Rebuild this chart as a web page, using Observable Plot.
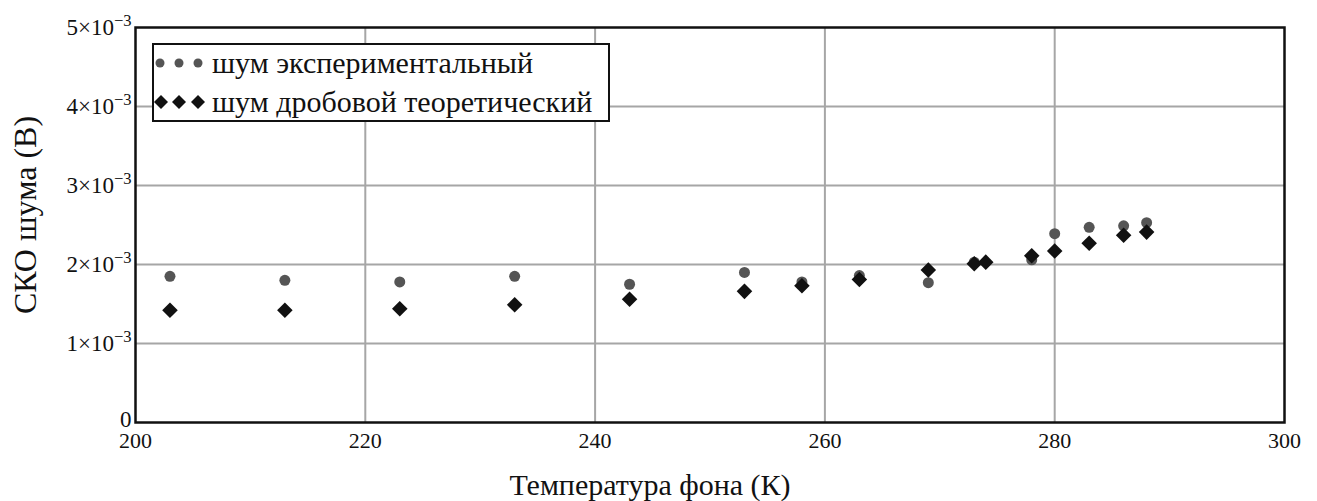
<!DOCTYPE html>
<html><head><meta charset="utf-8">
<script src="https://cdn.jsdelivr.net/npm/d3@7"></script>
<script src="https://cdn.jsdelivr.net/npm/@observablehq/plot@0.6"></script>
<style>
body{margin:0;background:#fff;font-family:'Liberation Serif';}
#wrap{position:relative;width:1317px;height:501px;overflow:hidden;}
#legend{position:absolute;left:152px;top:43px;width:454px;height:75px;border:2px solid #111;background:#fff;font-size:30px;color:#111;}
.row{position:absolute;left:0;height:34px;display:flex;align-items:center;white-space:nowrap;}
.row svg{margin-right:2px;}
</style></head><body style="font-family:'Liberation Serif'"><div id="wrap" style="font-family:'Liberation Serif'"></div>
<script>
// Experimental noise (circles)
const expTemp  = [203, 213, 223, 233, 243, 253, 258, 263, 269, 273, 278, 280, 283, 286, 288];
const expNoise = [1.85e-3, 1.80e-3, 1.78e-3, 1.85e-3, 1.75e-3, 1.90e-3, 1.78e-3, 1.86e-3, 1.77e-3, 2.03e-3, 2.06e-3, 2.39e-3, 2.47e-3, 2.49e-3, 2.53e-3];
// Theoretical shot noise (diamonds)
const thTemp  = [203, 213, 223, 233, 243, 253, 258, 263, 269, 273, 274, 278, 280, 283, 286, 288];
const thNoise = [1.42e-3, 1.42e-3, 1.44e-3, 1.49e-3, 1.56e-3, 1.66e-3, 1.73e-3, 1.81e-3, 1.93e-3, 2.01e-3, 2.03e-3, 2.11e-3, 2.17e-3, 2.27e-3, 2.37e-3, 2.41e-3];
// Axes
const xTicks = [200, 220, 240, 260, 280, 300];
const yTicks = [0, 1e-3, 2e-3, 3e-3, 4e-3, 5e-3];
const yTickMant = ["0", "1×10", "2×10", "3×10", "4×10", "5×10"];
const yTickExp  = ["", "−3", "−3", "−3", "−3", "−3"];
const gridX = [220, 240, 260, 280];
const gridY = [1e-3, 2e-3, 3e-3, 4e-3];
const xTitle = ["Температура фона (К)"];
const yTitle = ["СКО шума (В)"];
const legendLabels = ["шум экспериментальный", "шум дробовой теоретический"];

const FONT = "Liberation Serif";
const expData = expTemp.map((t, i) => ({t, v: expNoise[i]}));
const thData = thTemp.map((t, i) => ({t, v: thNoise[i]}));

const chart = Plot.plot({
  width: 1317, height: 501,
  marginLeft: 135, marginRight: 33, marginTop: 27, marginBottom: 79,
  style: {background: "#fff", color: "#111", fontFamily: FONT},
  x: {domain: [200, 300]},
  y: {domain: [0, 0.005]},
  marks: [
    Plot.ruleX(gridX, {stroke: "#a6a6a6", strokeWidth: 2}),
    Plot.ruleY(gridY, {stroke: "#a6a6a6", strokeWidth: 2}),
    Plot.dot(expData, {x: "t", y: "v", symbol: "circle", r: 5.5, fill: "#555", stroke: null}),
    Plot.dot(thData, {x: "t", y: "v", symbol: "diamond2", r: 7, fill: "#111", stroke: null}),
    Plot.frame({stroke: "#111", strokeWidth: 2.5}),
    Plot.axisX({ticks: xTicks, tickSize: 0, tickPadding: 10, fontSize: 22, label: null, tickFormat: d => String(d)}),
    Plot.axisY({ticks: yTicks, tickSize: 0, tickPadding: 4, fontSize: 23, label: null,
      tickFormat: d => String(yTicks.indexOf(d))}),
    Plot.text(xTitle, {frameAnchor: "bottom", textAnchor: "middle", lineAnchor: "middle", dx: -60, dy: 63, fontSize: 30}),
    Plot.text(yTitle, {frameAnchor: "left", textAnchor: "middle", lineAnchor: "middle", rotate: -90, dx: -110, dy: -10, fontSize: 32})
  ]
});

// rewrite y tick labels with superscript exponents
d3.select(chart).selectAll('g[aria-label="y-axis tick label"] text').each(function() {
  const el = d3.select(this);
  const idx = +el.text();
  el.text(null);
  el.append("tspan").text(yTickMant[idx]);
  if (yTickExp[idx]) el.append("tspan").attr("dy", "-0.55em").attr("font-size", "0.72em").text(yTickExp[idx]);
  else el.attr("dy", "-0.12em");
});
d3.select(chart).attr("font-family", FONT).style("font-family", FONT);
d3.select(chart).selectAll("text").attr("font-family", FONT).style("font-family", FONT);

const wrap = document.getElementById("wrap");
wrap.appendChild(chart);

const legend = document.createElement("div");
legend.id = "legend";
legend.style.fontFamily = FONT;
const circ = `<svg width="56" height="20"><g fill="#555">${[6,25,44].map(x=>`<circle cx="${x}" cy="10" r="4.5"/>`).join("")}</g></svg>`;
const diam = `<svg width="56" height="20"><g fill="#111">${[7,25,44].map(x=>`<path d="M${x},3L${x+7},10L${x},17L${x-7},10Z"/>`).join("")}</g></svg>`;
legend.innerHTML = `<div class="row" style="top:1px">${circ}<span>${legendLabels[0]}</span></div>
<div class="row" style="top:40px">${diam}<span>${legendLabels[1]}</span></div>`;
wrap.appendChild(legend);
</script></body></html>
